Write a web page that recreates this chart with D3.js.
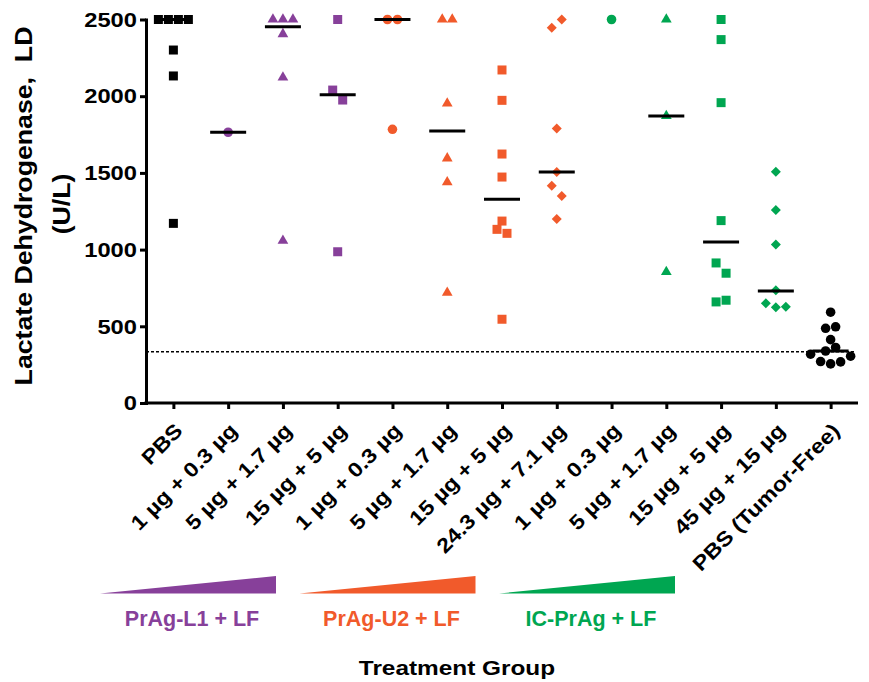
<!DOCTYPE html>
<html>
<head>
<meta charset="utf-8">
<script src="https://cdnjs.cloudflare.com/ajax/libs/d3/7.8.5/d3.min.js"></script>
<style>
  body { margin: 0; background: #fff; }
  svg { display: block; font-family: "Liberation Sans", Arial, sans-serif; font-weight: bold; }
</style>
</head>
<body>
<svg id="chart"></svg>
<script>
const width = 869;
const height = 682;

// treatment groups, left to right
const groupLabels = ['PBS', '1 µg + 0.3 µg', '5 µg + 1.7 µg', '15 µg + 5 µg',
  '1 µg + 0.3 µg', '5 µg + 1.7 µg', '15 µg + 5 µg', '24.3 µg + 7.1 µg',
  '1 µg + 0.3 µg', '5 µg + 1.7 µg', '15 µg + 5 µg', '45 µg + 15 µg', 'PBS (Tumor-Free)'];
const groupSeries = ['ctrl', 'L1', 'L1', 'L1', 'U2', 'U2', 'U2', 'U2', 'IC', 'IC', 'IC', 'IC', 'ctrl'];
const groupShapes = ['square', 'circle', 'triangle', 'square', 'circle', 'triangle', 'square',
  'diamond', 'circle', 'triangle', 'square', 'diamond', 'circle'];

// LDH values (U/L) per animal
const ldPBS       = [2500, 2500, 2500, 2500, 2301, 2132, 1171];
const ldL1_1      = [1765];
const ldL1_5      = [2500, 2500, 2500, 2405, 2123, 1058];
const ldL1_15     = [2500, 2040, 1975, 986];
const ldU2_1      = [2500, 2500, 1784];
const ldU2_5      = [2500, 2500, 1953, 1595, 1439, 719];
const ldU2_15     = [2171, 1973, 1623, 1473, 1186, 1132, 1106, 546];
const ldU2_24     = [2447, 2500, 1790, 1506, 1417, 1350, 1200];
const ldIC_1      = [2500];
const ldIC_5      = [2500, 1871, 854];
const ldIC_15     = [2500, 2369, 1958, 1189, 913, 846, 659, 670];
const ldIC_45     = [1508, 1258, 1034, 735, 650, 624, 628];
const ldTumorFree = [592, 487, 497, 413, 339, 362, 318, 270, 255, 268, 305];
const groupValues = [ldPBS, ldL1_1, ldL1_5, ldL1_15, ldU2_1, ldU2_5, ldU2_15, ldU2_24,
  ldIC_1, ldIC_5, ldIC_15, ldIC_45, ldTumorFree];

// median bars as drawn (none for the single IC-PrAg 1 µg animal)
const medians = [2500, 1765, 2452, 2010, 2500, 1773, 1328, 1506, null, 1871, 1050, 730, 339];

const yTicks = [0, 500, 1000, 1500, 2000, 2500];
const tumorFreeLevel = 334;

const legendSeries = ['L1', 'U2', 'IC'];
const legendNames = ['PrAg-L1 + LF', 'PrAg-U2 + LF', 'IC-PrAg + LF'];

const colors = {ctrl: '#000000', L1: '#87409a', U2: '#f15a2b', IC: '#00a651'};

const svg = d3.select('#chart').attr('width', width).attr('height', height);

const x = d3.scalePoint().domain(d3.range(groupLabels.length)).range([146, 858]).padding(0.5);
const y = d3.scaleLinear().domain([0, 2500]).range([403, 19.5]);

// widen text a little, the original font is broader than Arial
function stretch(sel, k) {
  sel.each(function () {
    const len = this.getComputedTextLength();
    d3.select(this).attr('textLength', len * k).attr('lengthAdjust', 'spacingAndGlyphs');
  });
}

// reference line (tumor-free level)
svg.append('line')
  .attr('x1', x.range()[0]).attr('x2', x.range()[1] - 4)
  .attr('y1', y(tumorFreeLevel)).attr('y2', y(tumorFreeLevel))
  .attr('stroke', '#000').attr('stroke-width', 1.4).attr('stroke-dasharray', '3,2');

// spread points side by side when they sit in the same row (GraphPad style)
const rowGap = 10.8;
const colStep = 10;
let points = [];
groupValues.forEach((vals, g) => {
  const items = vals.map((v, i) => ({g, v, i}));
  const sorted = items.slice().sort((a, b) => a.v - b.v || a.i - b.i);
  let rows = [];
  let cur = null;
  for (let p of sorted) {
    if (cur && y(cur.start) - y(p.v) < rowGap) {
      cur.items.push(p);
    } else {
      cur = {start: p.v, items: [p]};
      rows.push(cur);
    }
  }
  for (let r of rows) {
    r.items.sort((a, b) => a.i - b.i);
    const n = r.items.length;
    r.items.forEach((p, k) => { p.dx = (k - (n - 1) / 2) * colStep; });
  }
  points = points.concat(items);
});

const shapePath = {
  square: d3.symbol(d3.symbolSquare, 81)(),
  circle: d3.symbol(d3.symbolCircle, 72)(),
  triangle: d3.symbol(d3.symbolTriangle, 50)(),
  diamond: d3.symbol(d3.symbolSquare, 50)()
};

svg.append('g').selectAll('path').data(points).enter().append('path')
  .attr('d', d => shapePath[groupShapes[d.g]])
  .attr('transform', d => `translate(${x(d.g) + d.dx},${y(d.v)})` + (groupShapes[d.g] == 'diamond' ? ' rotate(45)' : ''))
  .attr('fill', d => colors[groupSeries[d.g]]);

// median bars
const medianData = medians.map((m, g) => ({g, m})).filter(d => d.m != null);
svg.append('g').selectAll('line').data(medianData).enter().append('line')
  .attr('x1', d => x(d.g) - 18).attr('x2', d => x(d.g) + 18)
  .attr('y1', d => y(d.m)).attr('y2', d => y(d.m))
  .attr('stroke', '#000').attr('stroke-width', 3);

// axes
const yAxis = svg.append('g').attr('transform', `translate(${x.range()[0]},0)`)
  .call(d3.axisLeft(y).tickValues(yTicks).tickFormat(d3.format('d'))
    .tickSize(6).tickSizeOuter(0).tickPadding(3));
yAxis.selectAll('path, line').attr('stroke', '#000').attr('stroke-width', 3);
yAxis.selectAll('text').attr('font-size', 21).attr('font-family', null).attr('fill', '#000');
stretch(yAxis.selectAll('text'), 1.13);

const xAxis = svg.append('g').attr('transform', `translate(0,${y(0)})`)
  .call(d3.axisBottom(x).tickSize(6).tickSizeOuter(0).tickFormat(i => groupLabels[i]));
xAxis.selectAll('path, line').attr('stroke', '#000').attr('stroke-width', 3);
xAxis.selectAll('text')
  .attr('font-size', 20.5).attr('font-family', null).attr('fill', '#000')
  .attr('x', 0).attr('y', 0).attr('dy', 0)
  .attr('text-anchor', 'end')
  .attr('transform', 'translate(10,29) rotate(-45)');
stretch(xAxis.selectAll('text'), 1.14);
yAxis.select('.domain').attr('stroke-linecap', 'square');
xAxis.select('.domain').attr('d', `M${x.range()[0] - 1.5},0H${x.range()[1]}`);

// y title
const yTitle = svg.append('g').attr('transform', 'rotate(-90)');
yTitle.append('text')
  .attr('x', -206).attr('y', 32).attr('text-anchor', 'middle')
  .attr('font-size', 23).style('white-space', 'pre')
  .text('Lactate Dehydrogenase,  LD');
yTitle.append('text')
  .attr('x', -204).attr('y', 70).attr('text-anchor', 'middle')
  .attr('font-size', 23)
  .text('(U/L)');
stretch(yTitle.selectAll('text'), 1.16);

// dose wedges under the axis
const legendX = d3.scalePoint().domain(legendSeries).range([188, 587]);
const wedgeW = 176;
const legend = svg.append('g');
legend.selectAll('path').data(legendSeries).enter().append('path')
  .attr('d', s => {
    const cx = legendX(s);
    return `M${cx - wedgeW / 2},593.5L${cx + wedgeW / 2},576L${cx + wedgeW / 2},593.5Z`;
  })
  .attr('fill', s => colors[s]);
legend.selectAll('text').data(legendSeries).enter().append('text')
  .attr('x', s => legendX(s) + 4).attr('y', 626)
  .attr('text-anchor', 'middle').attr('font-size', 21.5)
  .attr('fill', s => colors[s])
  .text((s, i) => legendNames[i]);

const xTitle = svg.append('text')
  .attr('x', 457).attr('y', 675).attr('text-anchor', 'middle')
  .attr('font-size', 21)
  .text('Treatment Group');
stretch(xTitle, 1.16);
</script>
</body>
</html>
